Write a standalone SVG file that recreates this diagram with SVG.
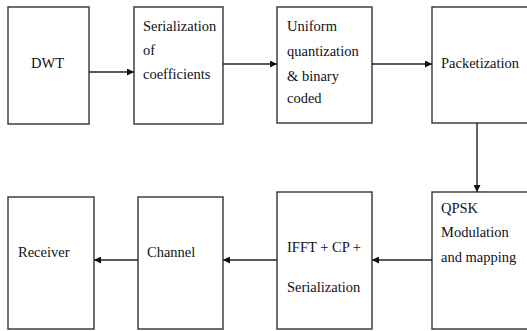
<svg xmlns="http://www.w3.org/2000/svg" width="527" height="331" viewBox="0 0 527 331">
  <style>
    .box { fill: #ffffff; stroke: #333333; stroke-width: 1.4; }
    .wire { stroke: #222222; stroke-width: 1.4; fill: none; marker-end: url(#tip); }
  </style>
  <defs>
    <marker id="tip" viewBox="0 0 10 10" refX="10" refY="5" markerWidth="7" markerHeight="7" markerUnits="userSpaceOnUse" orient="auto">
      <path d="M0,0 L10,5 L0,10 z" fill="#111111"/>
    </marker>
  </defs>
  <rect width="527" height="331" fill="#ffffff"/>

  <!-- top row -->
  <g id="dwt">
    <rect class="box" x="8" y="7" width="81" height="117"/>
    <text style="font-family:'Liberation Serif','Times New Roman',serif;font-size:14.5px;fill:#111122" x="31" y="68">DWT</text>
  </g>
  <g id="serialization">
    <rect class="box" x="134" y="7" width="89" height="117"/>
    <text style="font-family:'Liberation Serif','Times New Roman',serif;font-size:14.5px;fill:#111122" x="143" y="31">Serialization</text>
    <text style="font-family:'Liberation Serif','Times New Roman',serif;font-size:14.5px;fill:#111122" x="143" y="55">of</text>
    <text style="font-family:'Liberation Serif','Times New Roman',serif;font-size:14.5px;fill:#111122" x="143" y="79">coefficients</text>
  </g>
  <g id="quantization">
    <rect class="box" x="277" y="7" width="95" height="116"/>
    <text style="font-family:'Liberation Serif','Times New Roman',serif;font-size:14.5px;fill:#111122" x="287" y="31">Uniform</text>
    <text style="font-family:'Liberation Serif','Times New Roman',serif;font-size:14.5px;fill:#111122" x="287" y="56">quantization</text>
    <text style="font-family:'Liberation Serif','Times New Roman',serif;font-size:14.5px;fill:#111122" x="287" y="81">&amp; binary</text>
    <text style="font-family:'Liberation Serif','Times New Roman',serif;font-size:14.5px;fill:#111122" x="287" y="103">coded</text>
  </g>
  <g id="packetization">
    <rect class="box" x="432" y="7" width="100" height="116"/>
    <text style="font-family:'Liberation Serif','Times New Roman',serif;font-size:14.5px;fill:#111122" x="441" y="68">Packetization</text>
  </g>

  <!-- bottom row -->
  <g id="qpsk">
    <rect class="box" x="432" y="192" width="100" height="137"/>
    <text style="font-family:'Liberation Serif','Times New Roman',serif;font-size:14.5px;fill:#111122" x="441" y="213">QPSK</text>
    <text style="font-family:'Liberation Serif','Times New Roman',serif;font-size:14.5px;fill:#111122" x="441" y="237">Modulation</text>
    <text style="font-family:'Liberation Serif','Times New Roman',serif;font-size:14.5px;fill:#111122" x="441" y="262">and mapping</text>
  </g>
  <g id="ifft">
    <rect class="box" x="277" y="192" width="95" height="137"/>
    <text style="font-family:'Liberation Serif','Times New Roman',serif;font-size:14.5px;fill:#111122" x="287" y="252">IFFT + CP +</text>
    <text style="font-family:'Liberation Serif','Times New Roman',serif;font-size:14.5px;fill:#111122" x="287" y="292">Serialization</text>
  </g>
  <g id="channel">
    <rect class="box" x="138" y="197" width="85" height="132"/>
    <text style="font-family:'Liberation Serif','Times New Roman',serif;font-size:14.5px;fill:#111122" x="147" y="257">Channel</text>
  </g>
  <g id="receiver">
    <rect class="box" x="8" y="197" width="86" height="132"/>
    <text style="font-family:'Liberation Serif','Times New Roman',serif;font-size:14.5px;fill:#111122" x="18" y="257">Receiver</text>
  </g>

  <!-- connectors -->
  <g id="connectors">
    <line class="wire" x1="89" y1="72" x2="134" y2="72"/>
    <line class="wire" x1="223" y1="64" x2="277" y2="64"/>
    <line class="wire" x1="372" y1="64" x2="432" y2="64"/>
    <line class="wire" x1="477" y1="123" x2="477" y2="192"/>
    <line class="wire" x1="432" y1="260" x2="372" y2="260"/>
    <line class="wire" x1="277" y1="260" x2="223" y2="260"/>
    <line class="wire" x1="138" y1="260" x2="94" y2="260"/>
  </g>
</svg>
